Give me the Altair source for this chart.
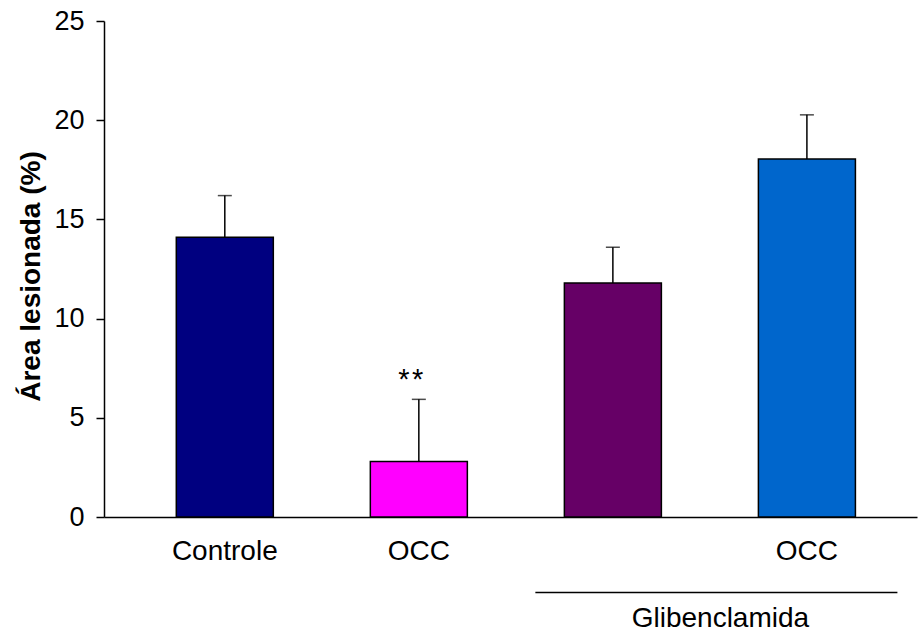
import altair as alt
import pandas as pd

# ---- data ----
categories = ["Controle", "OCC", "Glib", "Glib OCC"]
tick_labels = ["Controle", "OCC", "", "OCC"]
means = [14.1, 2.8, 11.8, 18.05]
errors = [2.1, 3.13, 1.8, 2.22]
colors = ["#000080", "#FF00FF", "#660066", "#0066CC"]
y_ticks = [0, 5, 10, 15, 20, 25]
signif = ["", "*\u200a*", "", ""]
group_label = "Glibenclamida"
group_start = "Glib"
group_end = "Glib OCC"
group_y = -3.8

df = pd.DataFrame({
    "cat": categories,
    "mean": means,
    "upper": [m + e for m, e in zip(means, errors)],
    "sig": signif,
})
grp = pd.DataFrame({"cat": [group_start], "cat_end": [group_end],
                    "y": [group_y], "label": [group_label]})

FONT = "Liberation Sans"
label_expr = "{" + ",".join(f"'{c}':'{l}'" for c, l in zip(categories, tick_labels)) + "}[datum.value]"

xscale = alt.Scale(domain=categories, paddingInner=0.5, paddingOuter=0.345, align=0.54)
xaxis = alt.Axis(title=None, labelExpr=label_expr, labelAngle=0, ticks=False, tickSize=0,
                 labelPadding=42, labelBaseline="alphabetic", labelFontSize=28,
                 labelFont=FONT, labelColor="black", domainColor="black", domainWidth=1.5)
yscale = alt.Scale(domain=[0, 25], nice=False)
yaxis = alt.Axis(title="Área lesionada (%)", values=y_ticks, grid=False, tickSize=8,
                 tickWidth=1.5, tickColor="black", domainColor="black", domainWidth=1.5,
                 labelFontSize=27, labelFont=FONT, labelColor="black", labelPadding=12,
                 titleFont=FONT, titleFontSize=28, titleFontWeight="bold", titleColor="black",
                 titleX=-65, titleY=255, titleBaseline="alphabetic")

X = alt.X("cat:N", scale=xscale, axis=xaxis, sort=None)

bars = alt.Chart(df).mark_bar(stroke="black", strokeWidth=1.5).encode(
    x=X,
    y=alt.Y("mean:Q", scale=yscale, axis=yaxis),
    color=alt.Color("cat:N", scale=alt.Scale(domain=categories, range=colors), legend=None),
)
err = alt.Chart(df).mark_rule(color="black", strokeWidth=1.5).encode(
    x=X, y="mean:Q", y2="upper:Q")
cap = alt.Chart(df).mark_tick(color="black", size=14, thickness=1.5).encode(
    x=X, y="upper:Q")
stars = alt.Chart(df).mark_text(font=FONT, fontSize=29, color="black",
                                baseline="alphabetic", dy=-10, dx=-8).encode(
    x=X, y="upper:Q", text="sig:N")
bracket = alt.Chart(grp).mark_rule(color="black", strokeWidth=1.5,
                                   xOffset=-29, x2Offset=42).encode(
    x=alt.X("cat:N", scale=xscale, axis=xaxis, sort=None, bandPosition=0),
    x2=alt.X2("cat_end", bandPosition=1),
    y="y:Q")
glabel = alt.Chart(grp).mark_text(font=FONT, fontSize=28, color="black",
                                  baseline="alphabetic", dy=35, dx=-38).encode(
    x=alt.X("cat_end:N", scale=xscale, axis=xaxis, sort=None, bandPosition=0),
    y="y:Q", text="label:N")

chart = alt.layer(bars, err, cap, stars, bracket, glabel).properties(
    width=813, height=496,
    autosize=alt.AutoSizeParams(type="none"),
    padding={"left": 104, "top": 21, "right": 1, "bottom": 115},
    background="white",
).configure_view(stroke=None)

chart.save("out.html", embed_options={"renderer": "svg", "actions": False})
